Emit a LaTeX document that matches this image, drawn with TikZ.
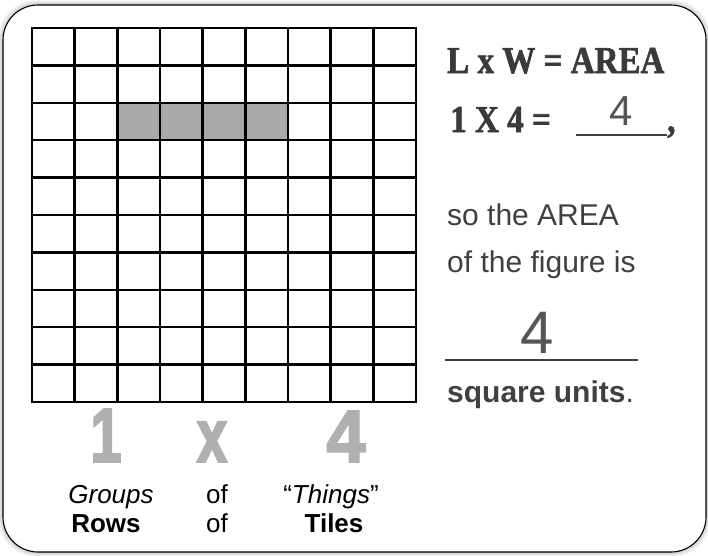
\documentclass[tikz,border=0pt]{standalone}
\usepackage{fontspec}
\setmainfont{Liberation Sans}
\newfontfamily\stencilfont[FakeStretch=0.87,FakeBold=1.6]{Liberation Serif}
\newfontfamily\numfont[FakeStretch=0.72,FakeBold=2.5]{Liberation Sans}
\newfontfamily\numfontw[FakeStretch=0.95,FakeBold=2.5]{Liberation Sans}
\definecolor{txt}{HTML}{404040}
\definecolor{stenciltxt}{HTML}{3A3A3A}
\definecolor{tile}{HTML}{A9A9A9}
\definecolor{bignum}{HTML}{B0B0B0}
\definecolor{hand}{HTML}{555555}
\begin{document}
\begin{tikzpicture}[x=1pt,y=-1pt,
  gridline/.style={line width=2.4pt, black, line cap=rect},
  stencil/.style={inner sep=0pt, anchor=base west, text=stenciltxt, font=\stencilfont\bfseries\fontsize{38}{38}\selectfont},
  body/.style={inner sep=0pt, anchor=base west, text=txt, font=\fontsize{30}{36}\selectfont},
  handnum/.style={inner sep=0pt, anchor=base, text=hand},
  bignumstyle/.style={inner sep=0pt, anchor=base, text=bignum},
  lab/.style={inner sep=0pt, anchor=base, text=black, font=\fontsize{26}{30}\selectfont},
  blank/.style={line width=1.8pt, draw=txt}
]
\useasboundingbox (0,0) rectangle (708,555);
\fill[white] (0,0) rectangle (708,555);
% soft shadow of the card
\foreach \i in {1,...,6}
  \fill[black, opacity=0.035, rounded corners=38pt] ({3-\i*0.8},{5-\i*0.8}) rectangle ({706+\i*0.8},{552+\i*0.8});
\draw[line width=1.1pt, fill=white, rounded corners=35pt] (3,5) rectangle (706,552);

% grid
\fill[tile] (117.33,102.8) rectangle (288,140.2);
\foreach \i in {0,...,9}
  \draw[gridline] ({32+\i*42.667},28) -- ({32+\i*42.667},402);
\foreach \j in {0,...,10}
  \draw[gridline] (32,{28+\j*37.4}) -- (416,{28+\j*37.4});

% right-hand text
\node[stencil] (lxw) at (447,73) {L x W = AREA};
\node[stencil] (eq) at (450,132) {1 X 4 =};
\node[handnum, font=\fontsize{42}{42}\selectfont] (ans1) at (621,125) {4};
\coordinate (u1a) at (576,135);
\coordinate (u1b) at (667,135);
\draw[blank] (u1a) -- (u1b);
\node[stencil] (comma) at (667,132) {,};

\node[body] (so) at (447,225) {so the AREA};
\node[body] (fig) at (447,272) {of the figure is};
\node[handnum, font=\fontsize{60}{60}\selectfont] (ans2) at (537,353) {4};
\coordinate (u2a) at (445,360);
\coordinate (u2b) at (638,360);
\draw[blank] (u2a) -- (u2b);
\node[body] (sq) at (447,402) {\textbf{square units}.};

% big gray numerals
\node[bignumstyle, font=\numfont\bfseries\fontsize{77}{77}\selectfont] (n1) at (106,462) {1};
\node[bignumstyle, font=\numfont\bfseries\fontsize{76}{76}\selectfont] (nx) at (212,462) {x};
\node[bignumstyle, font=\numfontw\bfseries\fontsize{74}{74}\selectfont] (n4) at (346,462) {4};

% bottom labels
\node[lab] (groups) at (111,503) {\itshape Groups};
\node[lab] (of1) at (217,503) {of};
\node[lab] (things) at (331,503) {“\textit{Things}”};
\node[lab] (rows) at (106,532) {\textbf{Rows}};
\node[lab] (of2) at (217,532) {of};
\node[lab] (tiles) at (334,532) {\textbf{Tiles}};
\end{tikzpicture}
\end{document}
